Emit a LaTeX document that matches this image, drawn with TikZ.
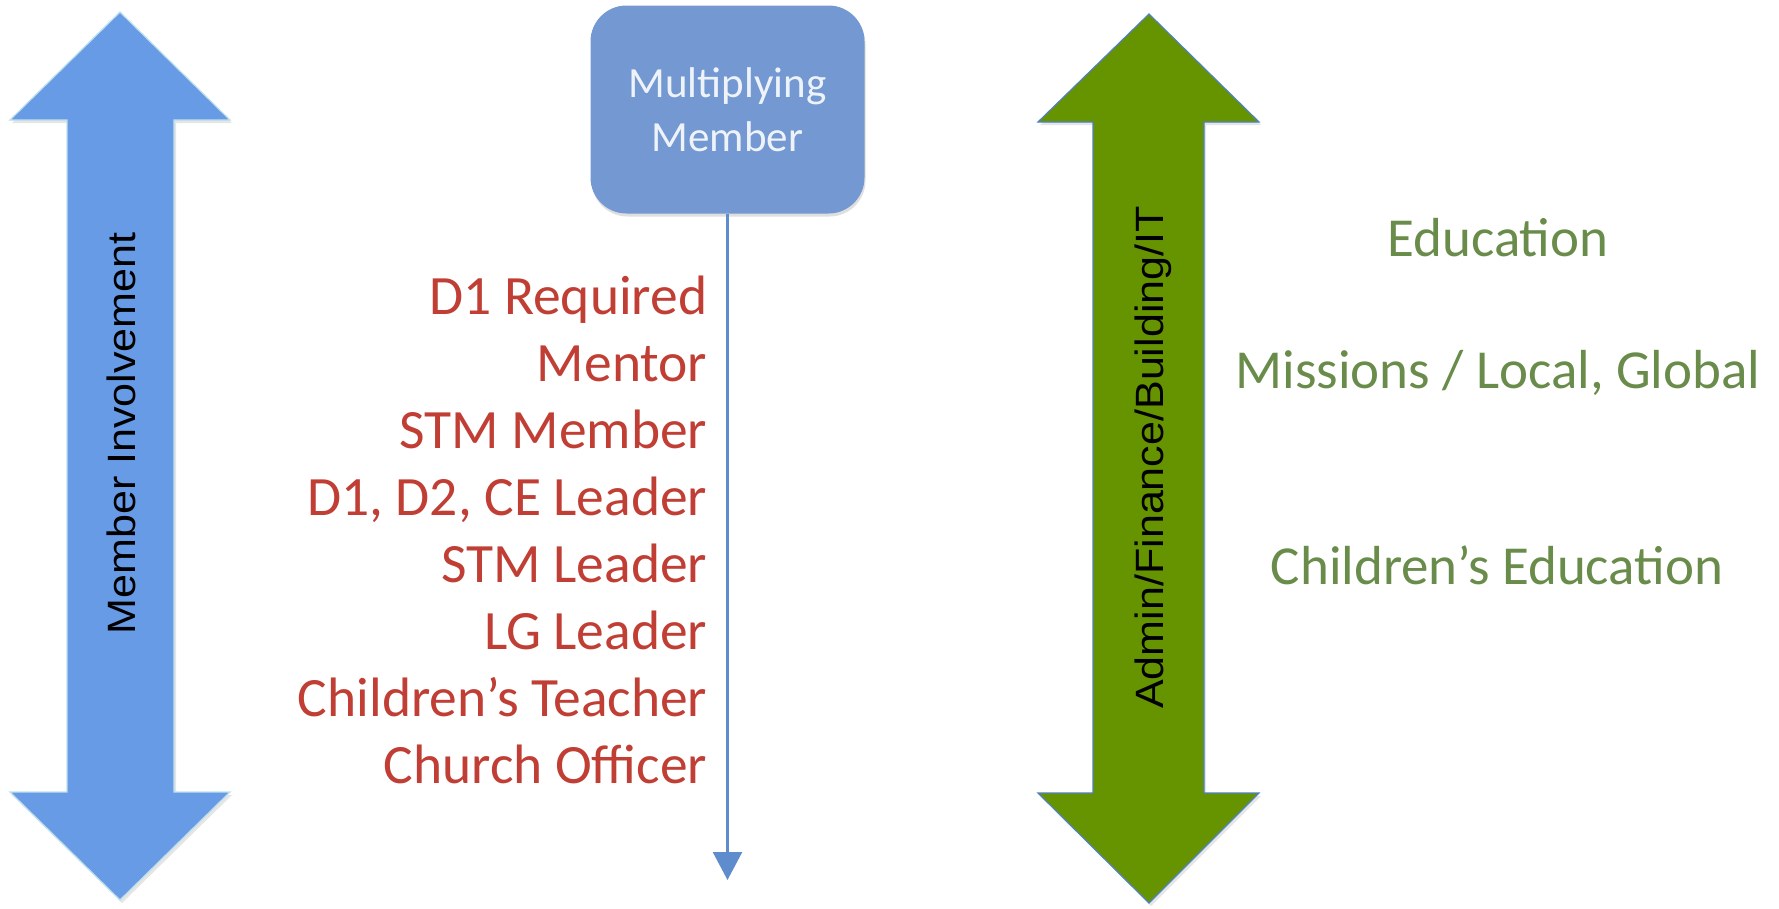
\documentclass[tikz,border=0pt]{standalone}
\usepackage{fontspec}
\setmainfont{Carlito}
\newfontfamily\arialfont[FakeStretch=1.09]{Liberation Sans}
\usetikzlibrary{arrows.meta,shadows}
\definecolor{blueArrow}{RGB}{103,155,230}
\definecolor{blueEdge}{RGB}{190,225,235}
\definecolor{greenArrow}{RGB}{102,148,0}
\definecolor{greenEdge}{RGB}{79,129,189}
\definecolor{boxFill}{RGB}{115,152,210}
\definecolor{boxText}{RGB}{238,243,250}
\definecolor{lineBlue}{RGB}{95,140,205}
\definecolor{roleRed}{RGB}{192,62,52}
\definecolor{minGreen}{RGB}{105,140,75}
\begin{document}
\begin{tikzpicture}[x=1pt,y=-1pt,
  role/.style={anchor=base east, inner sep=0pt, text=roleRed, font=\fontsize{55.5}{60}\selectfont},
  ministry/.style={anchor=base, inner sep=0pt, text=minGreen, font=\fontsize{55}{60}\selectfont},
  sidelabel/.style={anchor=base, rotate=90, inner sep=0pt, text=black, font=\arialfont\fontsize{39.5}{45}\selectfont},
  bigarrow/.style={line width=1.2pt, line join=miter, drop shadow={opacity=0.2, shadow xshift=2pt, shadow yshift=-3pt}},
  mmbox/.style={minimum width=274pt, minimum height=208pt, rounded corners=36pt, fill=boxFill, text=boxText, align=center, inner sep=0pt, font=\fontsize{43}{54}\selectfont, drop shadow={opacity=0.25, shadow xshift=1pt, shadow yshift=-3pt}},
  flow/.style={draw=lineBlue, line width=2.5pt, -{Triangle[width=29pt,length=28pt,fill=lineBlue]}}]
\path[use as bounding box, fill=white] (0,0) rectangle (1779,908);

% left double arrow
\draw[bigarrow, fill=blueArrow, draw=blueEdge]
  (120,12) -- (230,120) -- (174,120) -- (174,792) -- (230,792) -- (120,900)
  -- (10,792) -- (67,792) -- (67,120) -- (10,120) -- cycle;
\node[sidelabel] (mi) at (135,433.5) {Member Involvement};

% green double arrow
\draw[bigarrow, fill=greenArrow, draw=greenEdge]
  (1149,14) -- (1259,122) -- (1204,122) -- (1204,793) -- (1259,793) -- (1149,903)
  -- (1038,793) -- (1093,793) -- (1093,122) -- (1038,122) -- cycle;
\node[sidelabel] (af) at (1163,457.5) {Admin/Finance/Building/IT};

% multiplying member box and connector
\node[mmbox] (mm) at (727.5,109.5) {Multiplying\\Member};
\coordinate (flowend) at (727.5,880);
\draw[flow] (mm.south) -- (flowend);

% roles
\node[role] (r1) at (707.5,314) {D1 Required};
\node[role] (r2) at (707.5,381) {Mentor};
\node[role] (r3) at (707.5,448) {STM Member};
\node[role] (r4) at (707.5,515) {D1, D2, CE Leader};
\node[role] (r5) at (707.5,582) {STM Leader};
\node[role] (r6) at (707.5,649) {LG Leader};
\node[role] (r7) at (707.5,716) {Children’s Teacher};
\node[role] (r8) at (707.5,783) {Church Officer};

% ministries
\node[ministry] (m1) at (1498,256) {Education};
\node[ministry] (m2) at (1498,388) {Missions / Local, Global};
\node[ministry] (m3) at (1497,584) {Children’s Education};
\end{tikzpicture}
\end{document}
